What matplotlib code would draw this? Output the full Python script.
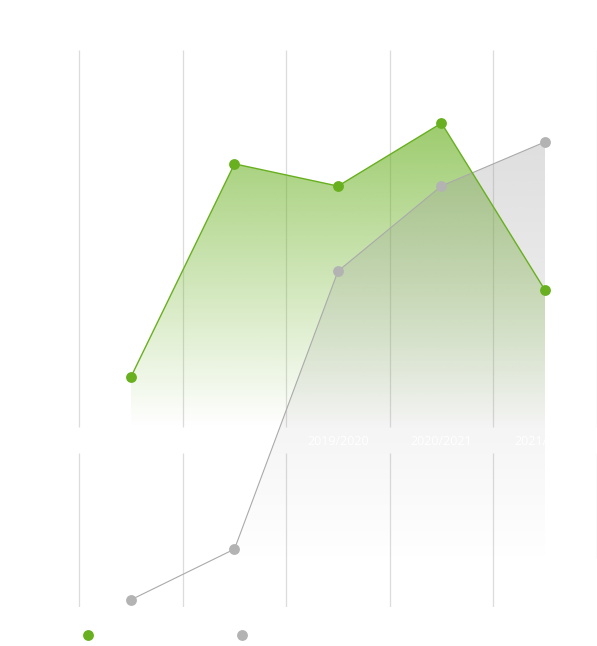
import numpy as np
import matplotlib
matplotlib.use("Agg")
import matplotlib.pyplot as plt
from matplotlib.colors import to_rgb
from matplotlib.lines import Line2D

plt.rcParams['font.family'] = ['Open Sans', 'DejaVu Sans']

# data
seasons = ["2017/2018", "2018/2019", "2019/2020", "2020/2021", "2021/2022"]
green_vals = [13.3, 69.8, 63.9, 80.6, 36.3]   # left scale, 0..100
gray_vals = [1.3, 10.4, 60.3, 75.6, 83.5]     # right scale, 0..100
series_names = ["Serie 1", "Serie 2"]

GREEN = "#68b01f"
GRAY_LINE = "#aaaaaa"
GRAY_DOT = "#b3b3b3"

x = np.arange(len(seasons))

fig = plt.figure(figsize=(5.97, 6.46), dpi=100)
fig.patch.set_facecolor("white")
ax = fig.add_axes([0, 39 / 646, 1, 557 / 646])
ax2 = ax.twinx()

xlim = (2 - 338 / 103.5, 2 + 259 / 103.5)
ylim_green = (-47.75, 100)
ylim_gray = (0, 100)


def gradient_area(axis, xs, ys, base, color, a_top, fade_to, zorder):
    # area under the line, filled with a vertical alpha gradient that
    # reaches zero at the value fade_to
    poly = axis.fill_between(xs, ys, base, facecolor="none", edgecolor="none")
    path = poly.get_paths()[0]
    n = 256
    top = max(ys)
    yy = np.linspace(top, base, n)
    img = np.zeros((n, 1, 4))
    img[..., :3] = to_rgb(color)
    img[:, 0, 3] = a_top * np.clip((yy - fade_to) / (top - fade_to), 0, 1)
    im = axis.imshow(img, extent=[min(xs), max(xs), base, top],
                     origin="upper", aspect="auto", zorder=zorder,
                     interpolation="bilinear")
    im.set_clip_path(path, transform=axis.transData)


# green series area (bottom layer)
gradient_area(ax, x, green_vals, 0, GREEN, 0.65, 0, 1)

# gray series (right scale), above the green area
gradient_area(ax2, x, gray_vals, 0, "#9a9a9a", 0.32, 8, 1)
ax2.plot(x, gray_vals, color=GRAY_LINE, lw=0.8, zorder=3)
ax2.plot(x, gray_vals, "o", color=GRAY_DOT, ms=7.8, mec="none", zorder=4)
# green line and markers on top, still on the green scale
ax2.plot(x, green_vals, color=GREEN, lw=1.0, zorder=3.5, transform=ax.transData)
ax2.plot(x, green_vals, "o", color=GREEN, ms=7.8, mec="none", zorder=5,
         transform=ax.transData)

# vertical grid lines at category boundaries, broken by the label band
tr = ax.get_xaxis_transform()
bounds = np.arange(len(seasons) + 1) - 0.5
ax.vlines(bounds, 0.323, 1, transform=tr, color="#dcdcdc", lw=0.9, zorder=0)
ax.vlines(bounds[:-1], 0, 0.2765, transform=tr, color="#dcdcdc", lw=0.9, zorder=0)
ax.vlines(bounds[-1:], 0.088, 0.2765, transform=tr, color="#dcdcdc", lw=0.9, zorder=0)

# category labels (white)
tr2 = ax2.get_xaxis_transform()
for xi, lab in zip(x, seasons):
    ax2.text(xi, 0.298, lab, transform=tr2, ha="center", va="center",
             color="white", fontsize=9, zorder=6)

for a in (ax, ax2):
    a.set_xlim(*xlim)
    for s in a.spines.values():
        s.set_visible(False)
    a.set_xticks([])
    a.set_yticks([])
ax.set_ylim(*ylim_green)
ax2.set_ylim(*ylim_gray)

# legend
for px, col, name in [(88, GREEN, series_names[0]), (242, GRAY_DOT, series_names[1])]:
    fig.add_artist(Line2D([px / 597], [1 - 635 / 646], marker="o", color=col,
                          ms=7.8, mec="none", transform=fig.transFigure))
    fig.text((px + 12) / 597, 1 - 635 / 646, name, color="white",
             fontsize=9, va="center")

fig.savefig("out.png", dpi=100, facecolor="white")
